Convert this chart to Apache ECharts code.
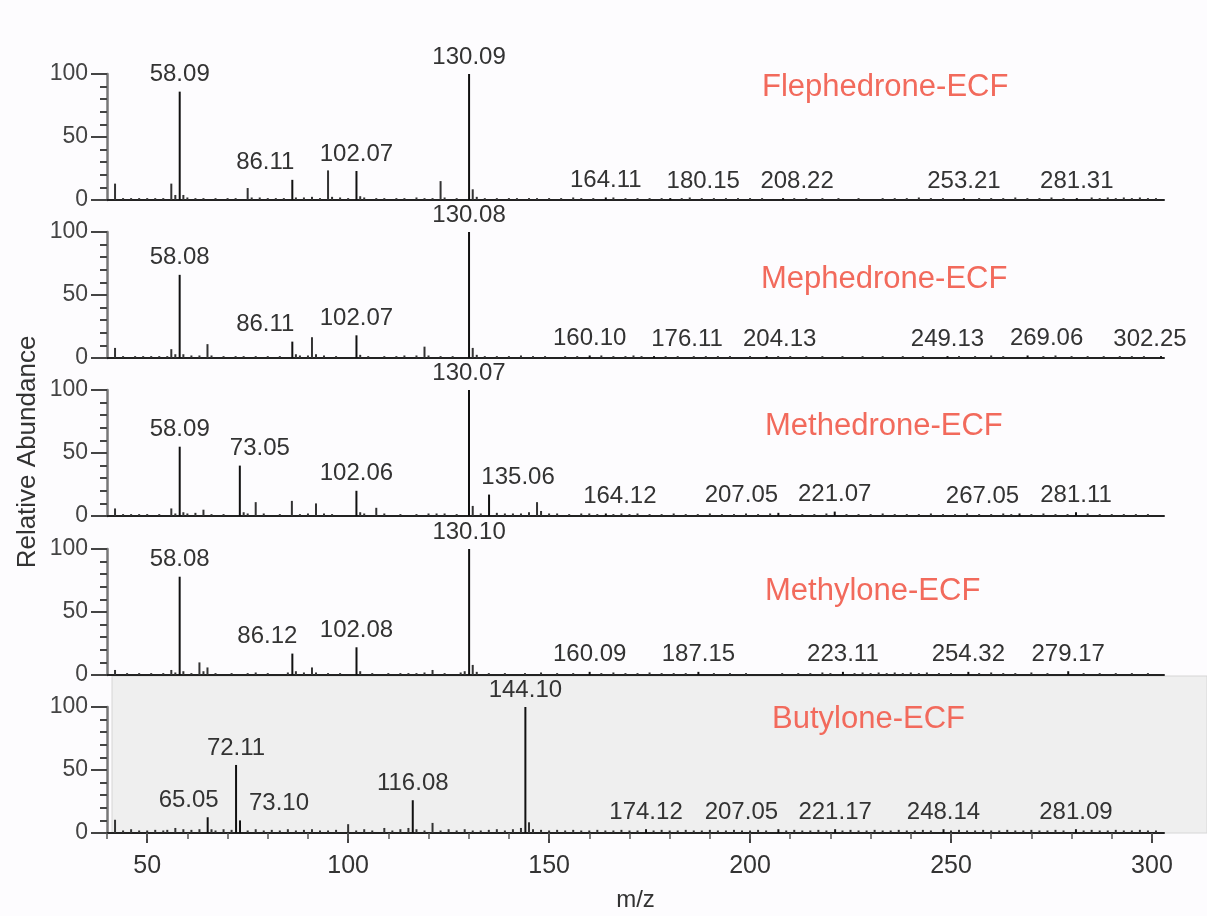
<!DOCTYPE html>
<html>
<head>
<meta charset="utf-8">
<title>ECF mass spectra</title>
<script src="https://cdn.jsdelivr.net/npm/echarts@6/dist/echarts.min.js"></script>
<style>
	html, body { margin: 0; padding: 0; background: #fdfcfe; }
	#main { width: 1207px; height: 916px; }
</style>
</head>
<body>
<div id="main"></div>
<script>
// 化合物名称
var compounds = ['Flephedrone-ECF', 'Mephedrone-ECF', 'Methedrone-ECF', 'Methylone-ECF', 'Butylone-ECF'];

// 标注的峰 [m/z, 相对丰度]
var flephedronePeaks = [[58.09, 86], [86.11, 16], [102.07, 23], [130.09, 100], [164.11, 2], [180.15, 1.5], [208.22, 1.5], [253.21, 1.5], [281.31, 1.5]];
var mephedronePeaks = [[58.08, 66], [86.11, 13], [102.07, 18], [130.08, 100], [160.10, 2], [176.11, 1.5], [204.13, 1.5], [249.13, 1.5], [269.06, 2], [302.25, 1.5]];
var methedronePeaks = [[58.09, 55], [73.05, 40], [102.06, 20], [130.07, 100], [135.06, 17], [164.12, 2], [207.05, 2.5], [221.07, 3.5], [267.05, 2], [281.11, 3]];
var methylonePeaks = [[58.08, 78], [86.12, 17], [102.08, 22], [130.10, 100], [160.09, 2.5], [187.15, 2.5], [223.11, 2.5], [254.32, 2.5], [279.17, 3]];
var butylonePeaks = [[65.05, 12.5], [72.11, 54], [73.10, 10], [116.08, 26], [144.10, 100], [174.12, 3], [207.05, 3], [221.17, 3], [248.14, 3], [281.09, 3]];

// 未标注的小峰 [m/z, 相对丰度]
var flephedroneMinor = [[42, 13], [44, 1.5], [46, 1.5], [48, 1.5], [50, 1.5], [52, 1.5], [54, 1.5], [56, 13], [57, 4], [59, 4], [60, 2], [62, 1.5], [64, 1.5], [67, 1.5], [70, 1.5], [72, 1.5],
	[75, 9.5], [76, 2], [78, 2], [80, 1.5], [82, 1.5], [84, 1.5], [87, 2], [89, 2], [91, 2.5], [93, 1.5], [95, 23.5], [96, 2.5], [98, 2], [100, 1.5], [103, 3], [104, 2],
	[107, 1.5], [109, 1.5], [112, 1.5], [114, 1.5], [117, 2], [119, 1.5], [121, 1.5], [123, 15], [124, 2], [127, 1.5], [131, 8.5], [132, 2.5], [134, 1.5], [137, 1.5], [140, 1.5],
	[142, 1.5], [145, 1.5], [147, 1.5], [150, 1.5], [153, 1.5], [156, 2], [158, 1.5], [161, 1.5], [166, 2], [169, 1.5], [172, 1.5], [175, 1.5], [178, 1.5], [183, 1.5], [185, 2],
	[188, 1.5], [191, 1.5], [194, 1.5], [197, 1.5], [200, 1.5], [203, 1.5], [211, 1.5], [214, 1.5], [218, 1.5], [222, 1.5], [227, 1.5], [233, 1.5], [236, 1.5], [239, 1.5],
	[242, 2], [245, 1.5], [248, 1.5], [257, 1.5], [260, 1.5], [263, 1.5], [266, 2], [269, 1.5], [272, 1.5], [275, 2], [278, 1.5], [285, 2], [287, 1.5], [289, 2], [291, 1.5],
	[293, 2], [295, 1.5], [297, 2], [299, 1.5], [301, 1.5]];
var mephedroneMinor = [[42, 8], [44, 1.5], [47, 1.5], [49, 1.5], [51, 1.5], [53, 1.5], [55, 1.5], [56, 7], [57, 3], [59, 3], [61, 2], [63, 2], [65, 11], [66, 2], [69, 1.5],
	[72, 1.5], [74, 1.5], [77, 1.5], [80, 1.5], [83, 1.5], [87, 3], [88, 2], [90, 2], [91, 16.5], [92, 3], [94, 2], [97, 1.5], [103, 2.5], [105, 1.5], [109, 1.5], [112, 1.5],
	[114, 2], [117, 2], [119, 9], [120, 2], [123, 1.5], [126, 1.5], [131, 8], [132, 2.5], [134, 1.5], [137, 1.5], [140, 1.5], [143, 2], [146, 1.5], [149, 1.5], [154, 1.5],
	[157, 1.5], [163, 2], [166, 1.5], [169, 1.5], [171, 2], [173, 1.5], [179, 1.5], [182, 1.5], [186, 1.5], [189, 1.5], [192, 1.5], [195, 1.5], [200, 1.5], [207, 1.5],
	[210, 1.5], [214, 1.5], [218, 1.5], [223, 1.5], [228, 1.5], [233, 1.5], [238, 1.5], [243, 1.5], [252, 1.5], [256, 1.5], [260, 2], [263, 1.5], [273, 1.5], [276, 2],
	[280, 1.5], [284, 1.5], [288, 1.5], [292, 1.5], [295, 1.5], [298, 1.5]];
var methedroneMinor = [[42, 6], [44, 1.5], [46, 1.5], [48, 1.5], [50, 1.5], [53, 1.5], [56, 6], [57, 2], [59, 3], [60, 2], [62, 2.5], [64, 5], [66, 1.5], [69, 1.5], [74, 3],
	[75, 2], [77, 11], [79, 2], [83, 1.5], [86, 12], [88, 1.5], [90, 2], [92, 10], [94, 2], [96, 1.5], [103, 3], [104, 2], [107, 6.5], [109, 2], [113, 1.5], [117, 1.5],
	[120, 2], [122, 2], [124, 2], [127, 1.5], [131, 8], [133, 2], [137, 2.5], [139, 2], [141, 2], [143, 2], [145, 3], [147, 11], [148, 4], [150, 2], [152, 2], [155, 1.5],
	[158, 2], [160, 2], [162, 1.5], [166, 1.5], [168, 2], [170, 1.5], [172, 2], [175, 1.5], [178, 1.5], [181, 2], [184, 1.5], [187, 1.5], [190, 2], [193, 1.5], [196, 1.5],
	[199, 2], [202, 1.5], [205, 2], [210, 1.5], [213, 1.5], [216, 1.5], [219, 2], [224, 1.5], [227, 1.5], [230, 1.5], [233, 2], [236, 1.5], [239, 1.5], [242, 1.5], [245, 2],
	[248, 1.5], [251, 1.5], [254, 2], [257, 1.5], [260, 1.5], [263, 2], [265, 1.5], [270, 1.5], [273, 2], [276, 1.5], [279, 1.5], [284, 2], [287, 1.5], [290, 1.5],
	[293, 1.5], [296, 1.5], [299, 1.5]];
var methyloneMinor = [[42, 4], [45, 1.5], [48, 1.5], [51, 1.5], [54, 1.5], [56, 4], [57, 2], [59, 3], [61, 1.5], [63, 10], [64, 3], [65, 6], [67, 1.5], [71, 1.5], [75, 1.5],
	[77, 2], [80, 1.5], [85, 2], [87, 3], [89, 2], [91, 6], [92, 2], [95, 1.5], [98, 1.5], [103, 3], [106, 1.5], [110, 1.5], [113, 1.5], [115, 1.5], [117, 1.5], [119, 2],
	[121, 4], [124, 1.5], [128, 2], [129, 3], [131, 8], [132, 2.5], [135, 1.5], [139, 1.5], [144, 1.5], [148, 2], [152, 1.5], [156, 1.5], [163, 1.5], [166, 2], [169, 1.5],
	[172, 1.5], [175, 2], [178, 1.5], [181, 1.5], [184, 1.5], [191, 1.5], [195, 1.5], [199, 1.5], [208, 1.5], [212, 1.5], [215, 1.5], [218, 2], [220, 1.5], [226, 1.5],
	[228, 2], [230, 1.5], [232, 2], [234, 1.5], [236, 2], [238, 1.5], [240, 2], [242, 1.5], [244, 2], [247, 1.5], [250, 1.5], [257, 1.5], [260, 2], [263, 1.5], [266, 1.5],
	[270, 2], [274, 1.5], [283, 1.5], [287, 1.5], [291, 1.5], [295, 1.5], [299, 1.5]];
var butyloneMinor = [[42, 10.5], [44, 2], [46, 3], [48, 2], [50, 2], [52, 2.5], [54, 2], [55, 2.5], [57, 4], [59, 3], [61, 2.5], [63, 3], [66, 3], [67, 2], [69, 3], [71, 2.5],
	[75, 2], [77, 3], [79, 2], [81, 2.5], [83, 2], [85, 3], [87, 2], [89, 2.5], [91, 3], [93, 2], [95, 2], [97, 2.5], [100, 7], [102, 2], [104, 3], [106, 2], [109, 4],
	[111, 2], [113, 3], [115, 4], [117, 3], [119, 2], [121, 8], [123, 2], [125, 3], [127, 2], [129, 3], [131, 2], [133, 2], [135, 2.5], [137, 3], [139, 2], [141, 3], [143, 4],
	[145, 8.5], [146, 3], [148, 2.5], [150, 2], [152, 2.5], [154, 2], [156, 2.5], [158, 2], [160, 2], [162, 2.5], [164, 2], [166, 2], [168, 2.5], [170, 2], [172, 2],
	[176, 2], [178, 2.5], [180, 2], [182, 2], [184, 2.5], [186, 2], [188, 2], [190, 2.5], [192, 2], [194, 2], [196, 2.5], [198, 2], [200, 2], [202, 2.5], [204, 2],
	[209, 2], [211, 2.5], [213, 2], [215, 2], [217, 2.5], [219, 2], [223, 2], [225, 2.5], [227, 2], [229, 2], [231, 2.5], [233, 2], [235, 2], [237, 2.5], [239, 2],
	[241, 2], [243, 2.5], [245, 2], [250, 2], [252, 2.5], [254, 2], [256, 2], [258, 2.5], [260, 2], [262, 2], [264, 2.5], [266, 2], [268, 2], [270, 2.5], [272, 2],
	[274, 2], [276, 2.5], [278, 2], [283, 2], [285, 2.5], [287, 2], [289, 2], [291, 2.5], [293, 2], [295, 2], [297, 2.5], [299, 2], [301, 2]];

// 坐标轴刻度
var mzLabels = [50, 100, 150, 200, 250, 300];
var mzMinorTicks = [40, 50, 60, 70, 80, 90, 100, 110, 120, 130, 140, 150, 160, 170, 180, 190, 200, 210, 220, 230, 240, 250, 260, 270, 280, 290, 300];

(function() {
	// 1.实例化对象
	var myChart = echarts.init(document.getElementById('main'));
	var font = 'Liberation Sans, Arial, sans-serif';

	var labelled = [flephedronePeaks, mephedronePeaks, methedronePeaks, methylonePeaks, butylonePeaks];
	var minor = [flephedroneMinor, mephedroneMinor, methedroneMinor, methyloneMinor, butyloneMinor];

	// 标签左右偏移(避免重叠)
	var labelShift = [
		{ '86.11': -27, '180.15': 33, '208.22': 14 },
		{ '86.11': -27, '176.11': 33, '204.13': 13, '269.06': 19, '302.25': -11 },
		{ '73.05': 20, '135.06': 29, '164.12': 14, '207.05': -37, '267.05': -37 },
		{ '86.12': -25 },
		{ '65.05': -19, '73.10': 39, '207.05': -37 }
	];
	var gridTop = [74, 232, 390, 549, 707];
	var titlePos = [[762, 72], [761, 264], [765, 411], [765, 576], [772, 704]];

	var grids = [], xAxes = [], yAxes = [], series = [], titles = [];
	for (var i = 0; i < 5; i++) {
		grids.push({ left: 107, width: 1057, top: gridTop[i], height: 126 });
		xAxes.push({
			gridIndex: i,
			type: 'value',
			min: 40,
			max: 303,
			axisLine: { show: true, onZero: false, lineStyle: { color: '#222', width: 2 } },
			axisTick: { show: false },
			axisLabel: { show: false },
			splitLine: { show: false }
		});
		yAxes.push({
			gridIndex: i,
			type: 'value',
			min: 0,
			max: 100,
			interval: 50,
			axisLine: { show: true, lineStyle: { color: '#777', width: 2.5 } },
			axisTick: { show: true, length: 16, lineStyle: { color: '#444', width: 2 } },
			minorTick: { show: true, splitNumber: 5, length: 7, lineStyle: { color: '#444', width: 2 } },
			axisLabel: { margin: 19, fontSize: 23, color: '#444', fontFamily: font },
			splitLine: { show: false }
		});

		// 组合柱状数据
		var data = [];
		minor[i].forEach(function(p) {
			data.push({ value: p, itemStyle: { color: '#333' } });
		});
		var shift = labelShift[i];
		labelled[i].forEach(function(p) {
			var key = p[0].toFixed(2);
			data.push({
				value: p,
				label: { show: true, offset: [shift[key] || 0, 0] }
			});
		});

		series.push({
			type: 'bar',
			xAxisIndex: i,
			yAxisIndex: i,
			barWidth: 2,
			itemStyle: { color: '#111' },
			label: {
				position: 'top',
				distance: 5,
				fontSize: 24,
				color: '#333',
				fontFamily: font,
				formatter: function(params) {
					return params.value[0].toFixed(2);
				}
			},
			emphasis: { disabled: true },
			data: data
		});

		titles.push({
			text: compounds[i],
			left: titlePos[i][0],
			top: titlePos[i][1],
			padding: 0,
			textStyle: { color: '#f26a5c', fontSize: 31, fontWeight: 'normal', fontFamily: font }
		});
	}

	// 底部 m/z 轴
	xAxes[4].name = 'm/z';
	xAxes[4].nameLocation = 'middle';
	xAxes[4].nameGap = 55;
	xAxes[4].nameTextStyle = { fontSize: 24, color: '#333', fontFamily: font };
	xAxes[4].axisTick = { show: true, length: 10, customValues: mzLabels, lineStyle: { color: '#444', width: 2 } };
	xAxes[4].axisLabel = { show: true, margin: 21, fontSize: 25, color: '#333', fontFamily: font, customValues: mzLabels };
	// 次刻度
	xAxes.push({
		gridIndex: 4,
		type: 'value',
		position: 'bottom',
		min: 40,
		max: 303,
		axisLine: { show: false },
		axisTick: { show: true, length: 6, customValues: mzMinorTicks, lineStyle: { color: '#555', width: 1.5 } },
		axisLabel: { show: false },
		splitLine: { show: false }
	});

	// 2.指定配置项
	var option = {
		backgroundColor: '#fdfcfe',
		animation: false,
		title: titles,
		grid: grids,
		xAxis: xAxes,
		yAxis: yAxes,
		series: series,
		graphic: [
			// 最后一个谱图的灰色背景
			{
				type: 'rect',
				z: -1,
				shape: { x: 112, y: 676, width: 1095, height: 157 },
				style: { fill: '#efefef', stroke: '#d6d6d6', lineWidth: 1 }
			},
			{
				type: 'text',
				x: 28,
				y: 452,
				rotation: Math.PI / 2,
				style: {
					text: 'Relative Abundance',
					fill: '#333',
					fontSize: 26,
					fontFamily: font,
					textAlign: 'center',
					textVerticalAlign: 'middle'
				}
			}
		]
	};
	// 3.把配置项给实例对象
	myChart.setOption(option);
	window.addEventListener('resize', function() {
		myChart.resize();
	});
})();
</script>
</body>
</html>
